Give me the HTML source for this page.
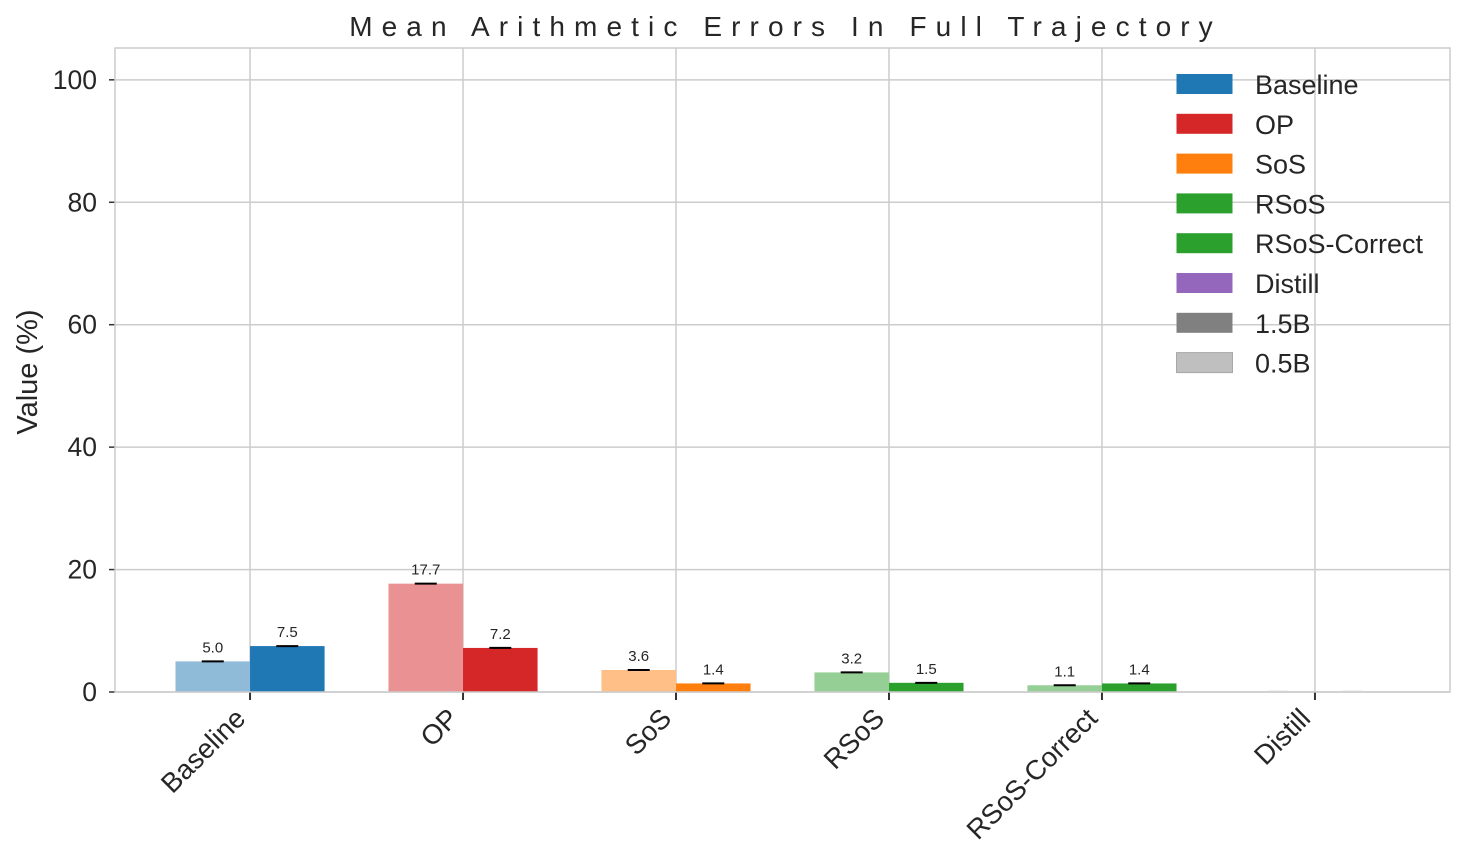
<!DOCTYPE html>
<html><head><meta charset="utf-8"><style>
html,body{margin:0;padding:0;background:#fff;}
svg{display:block;font-family:"Liberation Sans",sans-serif;}
</style></head><body>
<svg id="chart" width="1464" height="864" viewBox="0 0 1464 864" xmlns="http://www.w3.org/2000/svg"></svg>
<script>
const categories = ["Baseline","OP","SoS","RSoS","RSoS-Correct","Distill"];
const values05 = [5.0, 17.7, 3.6, 3.2, 1.1, 0.0];
const values15 = [7.5, 7.2, 1.4, 1.5, 1.4, 0.0];
const colors15 = ["#1f77b4","#d62728","#ff7f0e","#2ca02c","#2ca02c","#9467bd"];
const colors05 = ["#8fbbd9","#ea9293","#ffbf86","#95cf95","#95cf95","#cab3de"];
const yTicks = [0,20,40,60,80,100];
const legendLabels = ["Baseline","OP","SoS","RSoS","RSoS-Correct","Distill","1.5B","0.5B"];
const legendColors = ["#1f77b4","#d62728","#ff7f0e","#2ca02c","#2ca02c","#9467bd","#808080","#bfbfbf"];

const L=115,R=1450,T=48,B=692;
const xMin=-0.634,xMax=5.634,yMin=0,yMax=105.2;
const xs=v=>L+(v-xMin)/(xMax-xMin)*(R-L);
const ys=v=>B-(v-yMin)/(yMax-yMin)*(B-T);
const bw=0.35;
const svg=document.getElementById('chart');
const NS="http://www.w3.org/2000/svg";
function el(tag,attrs,parent){const e=document.createElementNS(NS,tag);for(const k in attrs)e.setAttribute(k,attrs[k]);(parent||svg).appendChild(e);return e;}

yTicks.forEach(t=>{
  const g=el('line',{x1:L,x2:R,y1:ys(t),y2:ys(t),stroke:'#cccccc','stroke-width':1.5});
  
  
  el('line',{x1:L-6,x2:L,y1:ys(t),y2:ys(t),stroke:'#333','stroke-width':1.5});
  const tx=el('text',{x:L-18,y:ys(t)+9,'text-anchor':'end','font-size':26.5,fill:'#262626'});
  tx.textContent=t;
  
  
});
categories.forEach((c,i)=>{
  const g=el('line',{x1:xs(i),x2:xs(i),y1:T,y2:B,stroke:'#cccccc','stroke-width':1.5});
  
  
  el('line',{x1:xs(i),x2:xs(i),y1:B,y2:B+8,stroke:'#333','stroke-width':2});
  const tx=el('text',{x:xs(i)-3,y:B+28,'text-anchor':'end','font-size':27.5,fill:'#262626',transform:`rotate(-45 ${xs(i)-3} ${B+28})`});
  tx.textContent=c;
  
  
});
function bar(i,v,x0,color,name){
  const x1=xs(x0),x2=xs(x0+bw);
  if(v>0){
    const r=el('rect',{x:x1,y:ys(v),width:x2-x1,height:ys(0)-ys(v),fill:color});
    
    
    const cx=(x1+x2)/2;
    el('line',{x1:cx-11,x2:cx+11,y1:ys(v),y2:ys(v),stroke:'#000','stroke-width':2});
    const tx=el('text',{x:cx,y:ys(v)-9,'text-anchor':'middle','font-size':15,fill:'#262626'});
    tx.textContent=v.toFixed(1);
    
    
  } else {
    const cx=(x1+x2)/2;
    el('line',{x1:cx-10,x2:cx+10,y1:ys(0)-1,y2:ys(0)-1,stroke:'#e6e6e6','stroke-width':1});
  }
}
categories.forEach((c,i)=>{
  bar(i,values05[i],i-bw,colors05[i],'bar-0.5b-'+c.toLowerCase());
  bar(i,values15[i],i,colors15[i],'bar-1.5b-'+c.toLowerCase());
});
const fr=el('rect',{x:L,y:T,width:R-L,height:B-T,fill:'none',stroke:'#cccccc','stroke-width':1.5});


const ti=el('text',{x:(L+R)/2+3,y:36,'text-anchor':'middle','font-size':28,fill:'#262626','letter-spacing':'9.1'});
ti.textContent='Mean Arithmetic Errors In Full Trajectory';


const yl=el('text',{x:37,y:372,'text-anchor':'middle','font-size':29,fill:'#262626',transform:'rotate(-90 37 372)'});
yl.textContent='Value (%)';


legendLabels.forEach((lab,i)=>{
  const y=84+i*39.8;
  const g=el('g',{});
  
  
  el('rect',{x:1176.5,y:y-10,width:56,height:20,fill:legendColors[i],stroke:legendColors[i]==='#bfbfbf'?'#a8a8a8':'none','stroke-width':1},g);
  const t=el('text',{x:1255,y:y+10,'font-size':27,fill:'#262626'},g);
  t.textContent=lab;
});
</script>
</body></html>
